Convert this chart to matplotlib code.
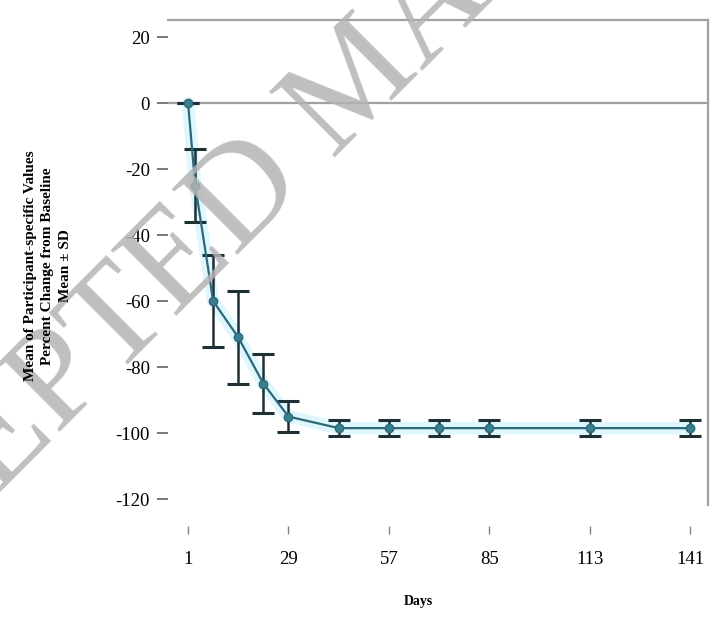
import matplotlib
matplotlib.use("Agg")
import matplotlib.pyplot as plt
import numpy as np

days = [1, 3, 8, 15, 22, 29, 43, 57, 71, 85, 113, 141]
mean_pct = [0, -25, -60, -71, -85, -95, -98.5, -98.5, -98.5, -98.5, -98.5, -98.5]
sd_pct = [0, 11, 14, 14, 9, 4.7, 2.5, 2.5, 2.5, 2.5, 2.5, 2.5]
xticks = [1, 29, 57, 85, 113, 141]
yticks = [20, 0, -20, -40, -60, -80, -100, -120]

plt.rcParams['font.family'] = ['Liberation Serif', 'DejaVu Serif']

fig = plt.figure(figsize=(7.19, 6.24), dpi=100)
ax = fig.add_axes([168/719, 1-505/624, (708-168)/719, (505-20)/624])

ax.set_xlim(-4.6, 146)
ax.set_ylim(-121.8, 25.2)

ax.axhline(0, color='#a0a0a0', lw=1.6, zorder=1)

# halo
ax.plot(days, mean_pct, color='#c8f2ff', lw=9, alpha=0.6, zorder=2, solid_capstyle='round')
ax.errorbar(days, mean_pct, yerr=sd_pct, fmt='none', ecolor='#1e2f35', elinewidth=1.8,
            capsize=8, capthick=2.2, zorder=3)
ax.plot(days, mean_pct, color='#2d6877', lw=1.6, marker='o', markersize=6,
        markerfacecolor='#3a7f8e', markeredgecolor='#2d6877', zorder=4)

for s in ['left', 'bottom']:
    ax.spines[s].set_visible(False)
for s in ['top', 'right']:
    ax.spines[s].set_color('#a0a0a0')
    ax.spines[s].set_linewidth(1.6)
ax.spines['bottom'].set_position(('outward', 15))

ax.set_xticks(xticks)
ax.set_xticklabels([str(t) for t in xticks])
ax.set_yticks(yticks)
ax.set_yticklabels([str(t) for t in yticks])
ax.tick_params(axis='x', direction='out', length=6, width=1, color='#808080', pad=12, labelsize=13.5)
ax.tick_params(axis='y', direction='out', length=8, width=1.2, color='#606060', pad=5, labelsize=13.5)

fig.text(418/719, 1-602/624, 'Days', ha='center', va='center', fontsize=10, fontweight='bold')

# watermark (drawn beneath the axis label)
fig.text(-210/719, 1-702/624, 'ACCEPTED MANUSCRIPT', ha='left', va='baseline', rotation=45,
         rotation_mode='anchor', fontsize=102, color='#b4b4b4', alpha=0.85, zorder=10)

fig.text(48/719, 1-266/624,
         'Mean of Participant-specific Values\nPercent Change from Baseline\nMean ± SD',
         ha='center', va='center', rotation=90, fontsize=11, fontweight='bold',
         linespacing=1.45, zorder=11)

fig.savefig('out.png', dpi=100)
